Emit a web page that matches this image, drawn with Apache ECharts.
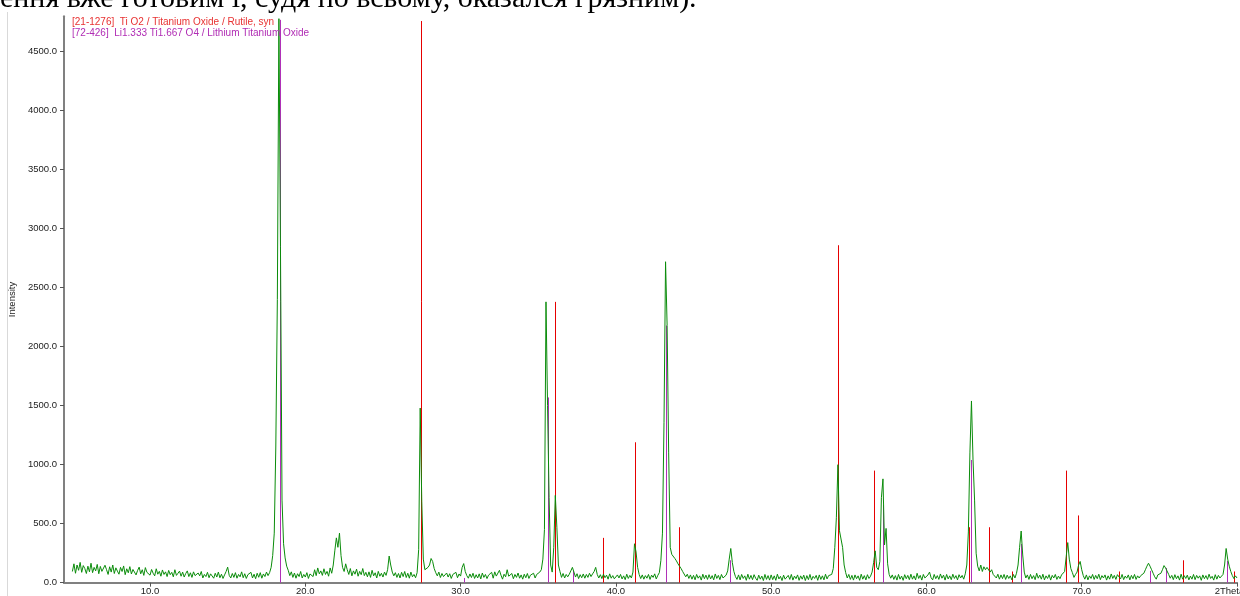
<!DOCTYPE html>
<html><head><meta charset="utf-8">
<script src="https://cdn.jsdelivr.net/npm/echarts@6/dist/echarts.min.js"></script>
<style>html,body{margin:0;padding:0;background:#fff;overflow:hidden}#c{width:1240px;height:596px}</style>
</head><body><div id="c"></div><script>
const scanStep = 0.1;
const scan05 = [ // 5.0 - 14.9
95,160,80,150,105,172,88,145,120,78,
140,92,165,85,130,100,155,76,138,96,
82,148,110,70,135,90,150,78,126,98,
72,130,95,142,68,118,84,136,74,112,
120,66,104,132,75,110,62,128,88,100,
64,112,80,58,118,72,96,55,108,70,
92,52,104,68,88,50,110,62,80,98,
55,90,48,78,100,52,84,45,92,60,
44,82,58,95,40,70,52,88,42,75,
60,38,80,48,90,42,72,36,66,95];
const scan15 = [ // 15.0 - 24.9
132,62,40,78,45,85,38,70,50,92,
42,76,36,68,55,88,40,72,34,80,
46,85,38,74,52,90,60,85,130,230,
420,1150,2400,4780,2850,700,330,210,140,105,
60,92,45,82,38,76,52,95,40,70,
48,85,36,74,90,52,110,60,125,75,
100,62,118,70,96,55,125,80,150,270,
380,300,420,230,130,95,160,110,70,120,
58,100,72,115,55,96,68,120,60,88,
50,92,45,105,58,84,40,96,55,80];
const scan25 = [ // 25.0 - 34.9
48,90,62,110,226,150,90,58,85,45,
78,40,88,52,95,44,80,38,90,50,
70,42,85,280,1480,690,200,110,95,130,
150,205,180,120,85,58,90,44,78,52,
40,82,48,76,36,70,55,88,42,74,
56,130,162,95,60,38,74,44,80,36,
68,40,75,32,82,45,70,35,64,48,
88,38,92,56,42,105,64,30,72,50,
110,55,40,78,34,70,45,82,38,66,
30,72,42,78,36,64,48,80,40,70];
const scan35 = [ // 35.0 - 44.9
55,90,110,200,450,2380,1500,720,150,90,
300,740,470,150,95,45,78,40,70,50,
72,100,130,90,48,76,35,68,42,74,
38,70,45,80,52,75,95,130,70,40,
68,35,72,42,64,30,75,38,60,33,
28,66,40,70,32,58,26,72,36,62,
40,90,330,260,130,70,35,66,30,60,
38,70,28,64,45,75,32,62,85,190,
420,1360,2720,2180,1100,300,240,225,205,185,
160,140,120,95,80,50,72,36,66,30];
const scan45 = [ // 45.0 - 54.9
62,25,70,38,58,22,72,34,64,28,
68,32,60,24,74,36,62,26,70,40,
30,64,100,200,290,170,95,52,28,66,
24,70,36,58,20,72,30,62,26,68,
38,20,64,30,56,18,70,28,60,22,
66,26,58,20,72,32,54,18,64,30,
24,62,28,70,22,56,34,66,20,58,
30,64,18,60,26,70,22,54,36,62,
20,66,28,58,24,72,32,60,55,70,
120,300,550,1000,440,430,300,150,85,40];
const scan55 = [ // 55.0 - 64.9
70,28,62,22,66,34,58,20,72,30,
60,24,68,36,55,90,170,270,130,110,
180,720,880,320,460,160,70,38,66,28,
60,22,70,30,56,20,68,34,62,26,
72,30,58,24,80,36,62,22,70,40,
30,66,90,42,24,70,34,60,28,74,
38,64,22,70,32,58,26,72,36,60,
24,68,40,62,30,75,150,430,1100,1540,
1040,700,250,140,100,150,95,135,110,130,
145,90,110,70,62,40,72,30,66,35];
const scan65 = [ // 65.0 - 74.9
70,28,64,36,58,24,70,40,80,150,
300,438,235,90,40,66,28,70,34,60,
26,80,38,64,30,72,24,58,36,68,
22,62,40,70,28,56,34,66,60,95,
220,340,200,120,85,45,70,90,150,180,
110,60,30,66,24,58,36,70,28,62,
34,72,26,60,40,66,22,58,30,74,
36,62,28,68,60,32,70,26,56,38,
66,24,62,34,70,28,58,40,60,70,
80,110,140,165,140,110,80,50,30,66];
const scan75 = [ // 75.0 - 80.0
60,80,110,145,125,115,70,38,62,26,
68,34,58,22,72,30,60,36,64,24,
56,30,70,26,62,38,58,20,66,34,
60,28,72,36,54,22,68,30,62,40,
50,70,150,290,200,140,95,60,35,58,
40];
const scanSegments = [[5, scan05],[15, scan15],[25, scan25],[35, scan35],[45, scan45],[55, scan55],[65, scan65],[75, scan75]];

// ---- reference patterns (stick positions / heights) ----
const rutileLabel = '[21-1276]  Ti O2 / Titanium Oxide / Rutile, syn';
const rutilePos = [27.45,36.09,39.19,41.23,44.05,54.32,56.64,62.74,64.04,65.48,69.01,69.79,72.41,74.41,76.51,79.82];
const rutileInt = [4760,2380,380,1190,470,2860,950,470,470,95,950,570,95,48,190,95];
const ltoLabel = '[72-426]  Li1.333 Ti1.667 O4 / Lithium Titanium Oxide';
const ltoPos = [18.35,30.2,35.64,37.25,43.25,47.35,57.23,62.85,66.1,74.4,75.4,79.38];
const ltoInt = [4770,40,1570,100,2180,190,658,1040,328,100,125,184];

// ---- axes ----
const xTicks = [10,20,30,40,50,60,70,80];
const yTicks = [0,500,1000,1500,2000,2500,3000,3500,4000,4500];
const xTitle = '2Theta';
const yTitle = 'Intensity';
const headerText = 'ення вже готовим і, судя по всьому, оказался грязним).';

const scanData = [];
scanSegments.forEach(function (seg) {
  seg[1].forEach(function (v, i) { scanData.push([+(seg[0] + i * scanStep).toFixed(2), v]); });
});
function zip(a, b) { return a.map(function (x, i) { return [x, b[i]]; }); }

function stickSeries(name, pos, ints, color) {
  return {
    type: 'custom', name: name, z: 2, silent: true,
    data: zip(pos, ints),
    encode: { x: 0, y: 1 },
    renderItem: function (params, api) {
      var p0 = api.coord([api.value(0), 0]);
      var p1 = api.coord([api.value(0), api.value(1)]);
      var x = Math.round(p0[0]) + 0.5;
      return { type: 'line', shape: { x1: x, y1: p0[1], x2: x, y2: p1[1] },
               style: { stroke: color, lineWidth: 1 } };
    }
  };
}

const font = 'Liberation Sans, Arial, sans-serif';
const chart = echarts.init(document.getElementById('c'), null, { renderer: 'canvas' });
chart.setOption({
  animation: false,
  backgroundColor: '#ffffff',
  grid: { left: 64, right: 3, top: 16.3, bottom: 13.3, outerBoundsMode: 'none', containLabel: false },
  xAxis: {
    type: 'value', min: 4.46, max: 80,
    axisLine: { show: true, onZero: false, lineStyle: { color: '#808080', width: 2 } },
    axisTick: { show: true, length: 4, customValues: xTicks, lineStyle: { color: '#555', width: 1 } },
    axisLabel: { customValues: xTicks, margin: 4, fontSize: 9.5, color: '#222', fontFamily: font,
      formatter: function (v) { return v === 80 ? '{t|' + xTitle + '}' : v.toFixed(1); },
      rich: { t: { fontSize: 9.5, color: '#222', fontFamily: font, padding: [0, 15, 0, 0] } } },
    splitLine: { show: false }
  },
  yAxis: {
    type: 'value', min: 0, max: 4800,
    name: yTitle, nameLocation: 'middle', nameGap: 36,
    nameTextStyle: { fontSize: 9.5, color: '#222', fontFamily: font },
    axisLine: { show: true, onZero: false, lineStyle: { color: '#808080', width: 2 } },
    axisTick: { show: true, length: 4, customValues: yTicks, lineStyle: { color: '#555', width: 1 } },
    axisLabel: { customValues: yTicks, margin: 7, fontSize: 9.5, color: '#222', fontFamily: font,
      formatter: function (v) { return v.toFixed(1); } },
    splitLine: { show: false }
  },
  graphic: [
    { type: 'line', z: 0, silent: true, shape: { x1: 7.5, y1: 12, x2: 7.5, y2: 596 }, style: { stroke: '#d9d9d9', lineWidth: 1 } },
    { type: 'text', z: 10, silent: true, x: 0, y: -1,
      style: { text: headerText, font: '30px "Liberation Serif", "Times New Roman", serif', fill: '#000', verticalAlign: 'middle', align: 'left' } },
    { type: 'text', z: 10, silent: true, x: 72, y: 22,
      style: { text: rutileLabel, font: '10px ' + font, fill: '#e83232', verticalAlign: 'middle', align: 'left' } },
    { type: 'text', z: 10, silent: true, x: 72, y: 33,
      style: { text: ltoLabel, font: '10px ' + font, fill: '#b02cb4', verticalAlign: 'middle', align: 'left' } }
  ],
  series: [
    stickSeries('Rutile', rutilePos, rutileInt, '#e60000'),
    stickSeries('LTO', ltoPos, ltoInt, '#b030b8'),
    { type: 'line', name: 'scan', z: 3, data: scanData, showSymbol: false, symbol: 'none',
      sampling: null, silent: true, clip: true,
      lineStyle: { color: '#0a8c0a', width: 1 } }
  ]
});
</script></body></html>
